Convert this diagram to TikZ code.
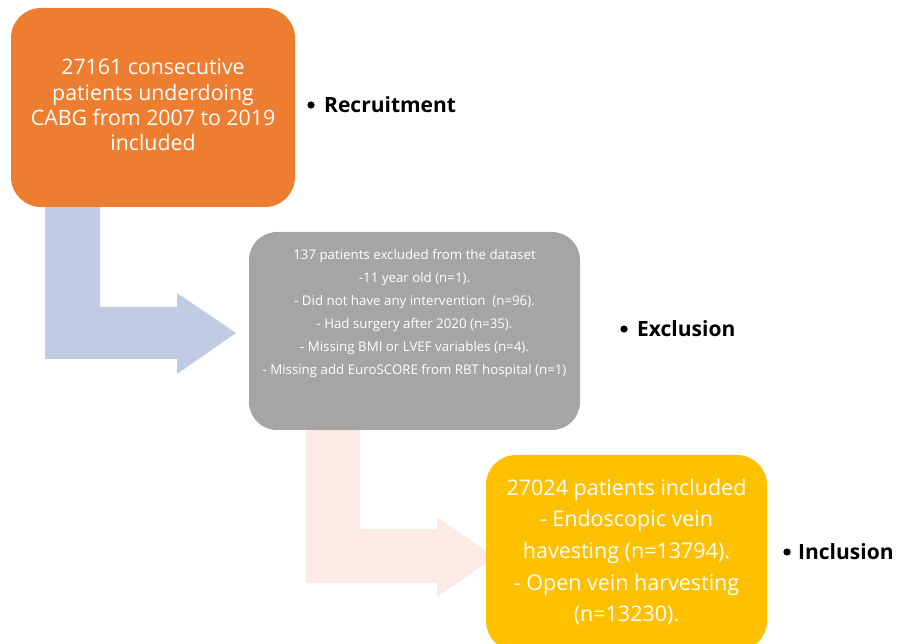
\documentclass[tikz,border=0pt]{standalone}
\usepackage{fontspec}
\setmainfont{Open Sans}
\definecolor{orangebox}{RGB}{237,125,49}
\definecolor{graybox}{RGB}{165,165,165}
\definecolor{yellowbox}{RGB}{255,192,0}
\definecolor{bluearrow}{RGB}{192,203,228}
\definecolor{peacharrow}{RGB}{251,234,229}
\tikzset{
  stagebox/.style={draw=none, rounded corners=30pt, text=white, align=center, inner sep=0pt},
  steplabel/.style={anchor=west, font=\fontsize{21}{24}\selectfont\bfseries, text=black, inner sep=0pt},
}
\begin{document}
\begin{tikzpicture}[x=1pt,y=-1pt]
\useasboundingbox (0,0) rectangle (898,644);
% bent arrows
\fill[bluearrow] (45,207) -- (100,207) -- (100,307) -- (177,307) -- (177,293) -- (236,333) -- (177,374) -- (177,359) -- (45,359) -- cycle;
\fill[peacharrow] (306,430) -- (360,430) -- (360,529) -- (437,529) -- (437,517) -- (495,557) -- (437,597) -- (437,583) -- (306,583) -- cycle;
% boxes
\node[stagebox, fill=orangebox, minimum width=284pt, minimum height=199pt] (rec) at (153,107.5) {};
\node[text=white, align=center, inner sep=0pt, font=\fontsize{21.3}{25.4}\selectfont] (rectext) at (153,105)
  {27161 consecutive\\patients underdoing\\CABG from 2007 to 2019\\included};
\node[stagebox, fill=graybox, rounded corners=28pt, minimum width=331pt, minimum height=198pt] (exc) at (414.5,331) {};
\node[text=white, align=center, inner sep=0pt, font=\fontsize{13.3}{23.1}\selectfont, anchor=north] (exctext) at (414.5,249)
  {137 patients excluded from the dataset\\-11 year old (n=1).\\- Did not have any intervention~~(n=96).\\- Had surgery after 2020 (n=35).\\- Missing BMI or LVEF variables (n=4).\\- Missing add EuroSCORE from RBT hospital (n=1)};
\node[stagebox, fill=yellowbox, minimum width=281pt, minimum height=196pt] (inc) at (626.5,553) {};
\node[text=white, align=center, inner sep=0pt, font=\fontsize{21.5}{31.6}\selectfont] (inctext) at (626.5,552)
  {27024 patients included\\- Endoscopic vein\\havesting (n=13794).\\- Open vein harvesting\\(n=13230).};
% labels
\fill (311,105) circle (3.6pt);
\node[steplabel] (lrec) at (324,105) {Recruitment};
\fill (624,329) circle (3.6pt);
\node[steplabel] (lexc) at (637,329) {Exclusion};
\fill (787,552) circle (3.6pt);
\node[steplabel] (linc) at (798,552) {Inclusion};
\end{tikzpicture}
\end{document}
